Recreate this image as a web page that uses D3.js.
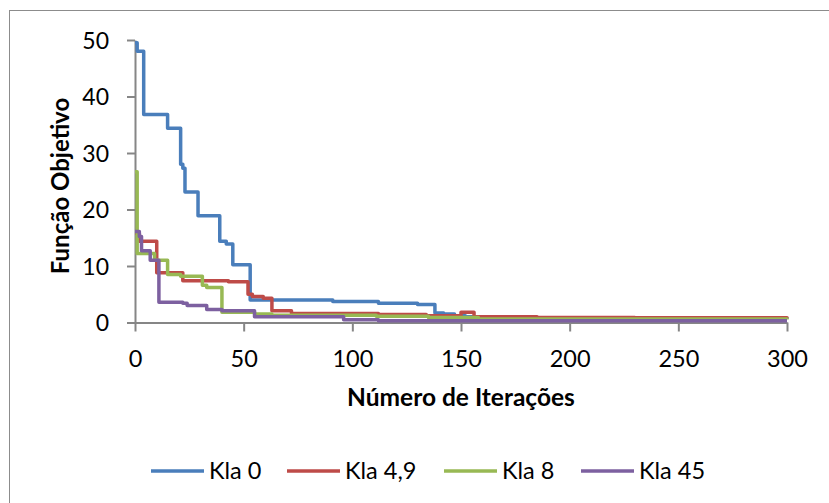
<!DOCTYPE html>
<meta charset="utf-8">
<script src="https://d3js.org/d3.v7.min.js"></script>
<style>
  body { margin: 0; background: #fff; }
  text { font-family: Lato, "Open Sans", sans-serif; fill: #000; }
</style>
<div id="chart"></div>
<script>
// series: iteration where a new best value starts, and that value (step data)
const seriesNames = ["Kla 0", "Kla 4,9", "Kla 8", "Kla 45"];
const seriesColors = ["#4A7EBB", "#BE4B48", "#98B954", "#7D60A0"];

const kla0Iter = [0, 1, 4, 15, 21, 22, 23, 29, 39, 42, 45, 53, 91, 112, 130, 138, 142, 147, 152, 160, 300];
const kla0Val  = [49.5, 48.0, 36.8, 34.4, 28.0, 27.3, 23.1, 18.9, 14.4, 13.9, 10.2, 4.0, 3.7, 3.4, 3.2, 1.7, 1.5, 1.2, 1.0, 0.7, 0.6];

const kla49Iter = [0, 2, 10, 22, 43, 52, 54, 59, 63, 72, 112, 134, 150, 156, 185, 230, 300];
const kla49Val  = [15.8, 14.4, 8.8, 7.4, 7.2, 5.0, 4.6, 4.3, 2.1, 1.6, 1.4, 1.2, 1.8, 1.0, 0.9, 0.85, 0.8];

const kla8Iter = [0, 1, 9, 15, 21, 31, 33, 40, 55, 63, 111, 135, 158, 300];
const kla8Val  = [26.7, 12.2, 11.0, 8.5, 8.2, 6.6, 6.2, 1.8, 1.5, 1.3, 1.1, 0.9, 0.6, 0.55];

const kla45Iter = [0, 2, 3, 7, 11, 22, 24, 33, 40, 55, 96, 112, 300];
const kla45Val  = [16.1, 15.2, 12.7, 11.0, 3.6, 3.4, 3.0, 2.3, 2.1, 1.0, 0.5, 0.3, 0.3];

const xTicks = [0, 50, 100, 150, 200, 250, 300];
const yTicks = [0, 10, 20, 30, 40, 50];

const allIter = [kla0Iter, kla49Iter, kla8Iter, kla45Iter];
const allVal = [kla0Val, kla49Val, kla8Val, kla45Val];

const W = 829, H = 503;
const svg = d3.select("#chart").append("svg")
  .attr("width", W).attr("height", H);

// chart frame
svg.append("rect")
  .attr("x", 9.5).attr("y", 10.5)
  .attr("width", 900).attr("height", 600)
  .attr("fill", "#fff").attr("stroke", "#8c8c8c").attr("stroke-width", 1);

const x = d3.scaleLinear().domain([0, 300]).range([135, 787]);
const y = d3.scaleLinear().domain([0, 50]).range([322.5, 40]);

// y axis
const yAxis = svg.append("g")
  .attr("transform", "translate(" + x(0) + ",0)")
  .call(d3.axisLeft(y).tickValues(yTicks).tickSize(8).tickSizeOuter(0).tickPadding(18));
yAxis.select(".domain").attr("stroke", "#868686").attr("stroke-width", 2);
yAxis.selectAll(".tick line").attr("stroke", "#868686").attr("stroke-width", 2);
yAxis.selectAll(".tick text").attr("font-size", 23).attr("dy", "0.36em")
  .style("font-family", "Lato, sans-serif").attr("fill", "#000");

// x axis
const xAxis = svg.append("g")
  .attr("transform", "translate(0," + y(0) + ")")
  .call(d3.axisBottom(x).tickValues(xTicks).tickSize(9).tickSizeOuter(0).tickPadding(20));
xAxis.select(".domain").attr("stroke", "#868686").attr("stroke-width", 2);
xAxis.selectAll(".tick text").attr("font-size", 23.5).attr("dy", "0.65em")
  .style("font-family", "Lato, sans-serif").attr("fill", "#000");
xAxis.selectAll(".tick line").attr("stroke", "#868686").attr("stroke-width", 2);

// lines
const line = d3.line()
  .x(d => x(d[0]))
  .y(d => y(d[1]))
  .curve(d3.curveStepAfter);

allIter.forEach((iters, i) => {
  const pts = iters.map((it, j) => [it, allVal[i][j]]);
  svg.append("path")
    .datum(pts)
    .attr("fill", "none")
    .attr("stroke", seriesColors[i])
    .attr("stroke-width", 3.5)
    .attr("stroke-linejoin", "round")
    .attr("d", line);
});

// axis titles
svg.append("text")
  .attr("x", 461).attr("y", 406)
  .attr("text-anchor", "middle")
  .attr("font-size", 24.5).attr("font-weight", "bold")
  .text("Número de Iterações");

svg.append("text")
  .attr("transform", "translate(69,186) rotate(-90)")
  .attr("text-anchor", "middle")
  .attr("font-size", 24).attr("font-weight", "bold")
  .text("Função Objetivo");

// legend
const legendX = [151, 287, 444, 581];
seriesNames.forEach((name, i) => {
  const g = svg.append("g").attr("transform", "translate(" + legendX[i] + ",471)");
  g.append("line")
    .attr("x1", 0).attr("x2", 53)
    .attr("stroke", seriesColors[i]).attr("stroke-width", 3.5);
  g.append("text")
    .attr("x", 58).attr("y", 0).attr("dy", "0.36em")
    .attr("font-size", 23.5)
    .text(name);
});
</script>
